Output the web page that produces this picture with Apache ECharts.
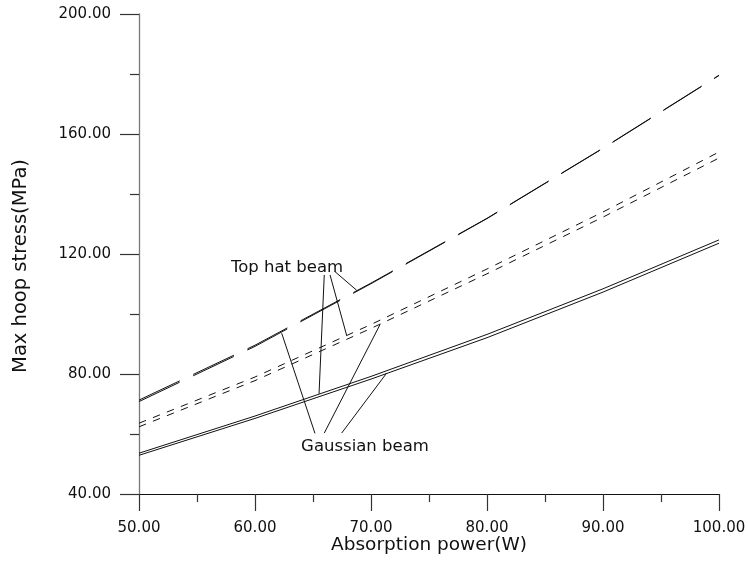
<!DOCTYPE html>
<html>
<head>
<meta charset="utf-8">
<script src="https://cdn.jsdelivr.net/npm/echarts@6/dist/echarts.min.js"></script>
<style>
  html, body { margin: 0; padding: 0; background: #fff; }
  #chart { width: 748px; height: 561px; }
</style>
</head>
<body>
<div id="chart"></div>
<script>
// Absorbed laser power (W)
const power = [50, 60, 70, 80, 90, 100];

// Max hoop stress (MPa), one pair of curves per line style
const topHatLong   = [71.3, 89.6, 110.3, 131.9, 155.3, 179.6];
const gaussLong    = [70.8, 89.2, 110.1, 131.8, 155.2, 179.5];
const topHatShort  = [63.6, 79.0, 96.5, 115.0, 134.0, 154.0];
const gaussShort   = [62.4, 77.8, 95.2, 113.4, 132.3, 152.0];
const topHatSolid  = [53.6, 66.0, 79.2, 93.2, 108.4, 124.7];
const gaussSolid   = [52.9, 65.2, 78.3, 92.1, 107.3, 123.6];

// Axis ticks
const xTicks = [50, 60, 70, 80, 90, 100];
const yTicks = [40, 80, 120, 160, 200];

// Callout texts and their leader lines, in data units [power, stress]
const topHatLabel = { text: 'Top hat beam', at: [62.76, 115.3] };
const topHatLeaders = [
  [[65.97, 113.0], [65.52, 73.4]],
  [[66.47, 113.0], [67.90, 92.9]],
  [[66.90, 114.1], [68.77, 107.9]]
];
const gaussLabel = { text: 'Gaussian beam', at: [69.48, 55.9] };
const gaussLeaders = [
  [[65.17, 60.2], [62.30, 93.6]],
  [[65.97, 60.3], [70.78, 96.5]],
  [[67.47, 60.3], [71.35, 80.3]]
];

const FONT = '"DejaVu Sans", sans-serif';
const INK = '#111';

const pairs = (ys) => power.map((x, i) => [x, ys[i]]);
const lineSeries = (name, ys, dash) => ({
  name,
  type: 'line',
  data: pairs(ys),
  showSymbol: false,
  symbol: 'none',
  silent: true,
  lineStyle: { color: INK, width: 1, type: dash },
  z: 3
});

const chart = echarts.init(document.getElementById('chart'), null, { renderer: 'canvas' });

const leaderData = topHatLeaders.concat(gaussLeaders).map(seg => [
  { coord: seg[0] }, { coord: seg[1] }
]);

chart.setOption({
  animation: false,
  backgroundColor: '#fff',
  grid: {
    left: 139, right: 29, top: 14, bottom: 67,
    containLabel: false,
    outerBoundsMode: 'none'
  },
  xAxis: {
    type: 'value',
    min: xTicks[0],
    max: xTicks[xTicks.length - 1],
    interval: 10,
    name: 'Absorption power(W)',
    nameLocation: 'middle',
    nameGap: 42,
    nameMoveOverlap: false,
    nameTextStyle: { fontFamily: FONT, fontSize: 18.5, color: '#111' },
    axisLine: { show: true, onZero: false, lineStyle: { color: '#111', width: 1 } },
    axisTick: { show: true, length: 17, lineStyle: { color: '#333', width: 1.2 } },
    minorTick: { show: true, splitNumber: 2, length: 8, lineStyle: { color: '#333', width: 1.2 } },
    splitLine: { show: false },
    minorSplitLine: { show: false },
    axisLabel: {
      margin: 27,
      fontFamily: FONT,
      fontSize: 15,
      color: '#111',
      formatter: v => v.toFixed(2)
    }
  },
  yAxis: {
    type: 'value',
    min: yTicks[0],
    max: yTicks[yTicks.length - 1],
    interval: 40,
    name: 'Max hoop stress(MPa)',
    nameLocation: 'middle',
    nameGap: 108,
    nameMoveOverlap: false,
    nameTextStyle: {
      fontFamily: FONT,
      fontSize: 19.5,
      color: '#111',
      padding: [0, 24, 0, 0]
    },
    axisLine: { show: true, onZero: false, lineStyle: { color: '#777', width: 1.3 } },
    axisTick: { show: true, length: 19, lineStyle: { color: '#333', width: 1.2 } },
    minorTick: { show: true, splitNumber: 2, length: 9, lineStyle: { color: '#333', width: 1.2 } },
    splitLine: { show: false },
    minorSplitLine: { show: false },
    axisLabel: {
      margin: 28,
      fontFamily: FONT,
      fontSize: 15,
      color: '#111',
      formatter: v => v.toFixed(2)
    }
  },
  series: [
    lineSeries('Top hat beam (long dash)', topHatLong, [45, 15]),
    lineSeries('Gaussian beam (long dash)', gaussLong, [45, 15]),
    lineSeries('Top hat beam (short dash)', topHatShort, [7.5, 7.5]),
    lineSeries('Gaussian beam (short dash)', gaussShort, [7.5, 7.5]),
    lineSeries('Top hat beam (solid)', topHatSolid, 'solid'),
    lineSeries('Gaussian beam (solid)', gaussSolid, 'solid'),
    {
      name: 'callouts',
      type: 'line',
      data: [],
      silent: true,
      markLine: {
        silent: true,
        animation: false,
        symbol: ['none', 'none'],
        label: { show: false },
        lineStyle: { color: INK, width: 1, type: 'solid' },
        emphasis: { disabled: true },
        data: leaderData
      },
      markPoint: {
        silent: true,
        animation: false,
        symbol: 'circle',
        symbolSize: 0,
        itemStyle: { color: 'transparent' },
        label: {
          show: true,
          position: 'inside',
          formatter: p => p.name,
          fontFamily: FONT,
          fontSize: 16.5,
          color: '#111'
        },
        data: [
          { name: topHatLabel.text, coord: topHatLabel.at },
          { name: gaussLabel.text, coord: gaussLabel.at }
        ]
      }
    }
  ]
});
</script>
</body>
</html>
